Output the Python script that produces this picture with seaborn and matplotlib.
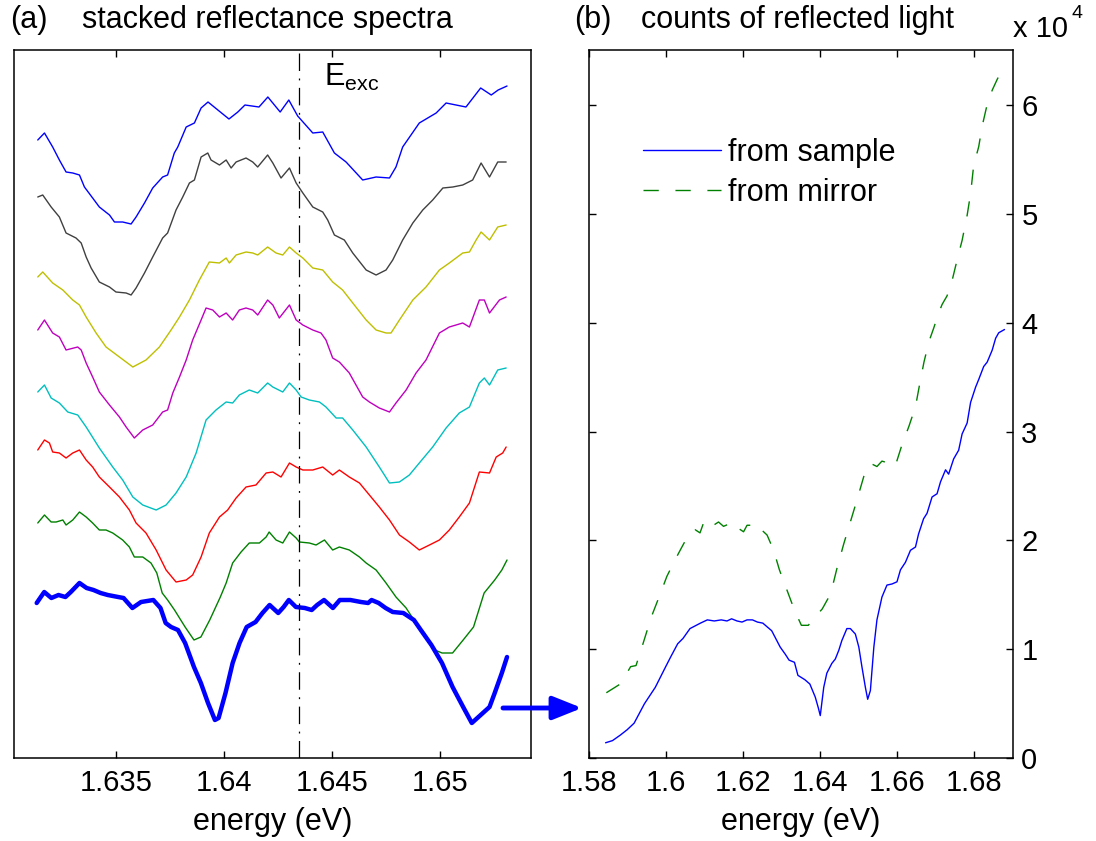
import matplotlib
matplotlib.use("Agg")
import matplotlib.pyplot as plt
import seaborn as sns
from matplotlib.patches import FancyArrowPatch

# ---------------- panel (a): stacked reflectance spectra (arb. units) ----------------
spec1_e = [1.63139, 1.63170, 1.63208, 1.63239, 1.63270, 1.63301, 1.63332, 1.63355, 1.63393, 1.63424, 1.63471, 1.63494, 1.63532, 1.63571, 1.63594, 1.63633, 1.63671, 1.63717, 1.63740, 1.63771, 1.63787, 1.63826, 1.63864, 1.63895, 1.63927, 1.63984, 1.64024, 1.64065, 1.64098, 1.64163, 1.64204, 1.64261, 1.64301, 1.64342, 1.64412, 1.64458, 1.64512, 1.64566, 1.64643, 1.64705, 1.64767, 1.64797, 1.64828, 1.64905, 1.64983, 1.65029, 1.65121, 1.65189, 1.65238, 1.65270, 1.65311]
spec1_r = [6.18, 6.25, 6.11, 5.98, 5.86, 5.85, 5.83, 5.71, 5.60, 5.51, 5.43, 5.36, 5.36, 5.34, 5.41, 5.55, 5.70, 5.81, 5.83, 6.05, 6.11, 6.31, 6.35, 6.50, 6.56, 6.46, 6.39, 6.46, 6.53, 6.51, 6.61, 6.46, 6.58, 6.42, 6.25, 6.26, 6.05, 5.96, 5.78, 5.81, 5.80, 5.91, 6.11, 6.35, 6.45, 6.55, 6.51, 6.70, 6.63, 6.68, 6.72]

spec2_e = [1.63139, 1.63162, 1.63201, 1.63239, 1.63270, 1.63316, 1.63340, 1.63363, 1.63386, 1.63424, 1.63471, 1.63501, 1.63548, 1.63571, 1.63594, 1.63633, 1.63671, 1.63717, 1.63740, 1.63779, 1.63810, 1.63841, 1.63864, 1.63895, 1.63926, 1.63941, 1.63980, 1.64011, 1.64034, 1.64057, 1.64103, 1.64134, 1.64157, 1.64203, 1.64227, 1.64265, 1.64304, 1.64335, 1.64366, 1.64412, 1.64458, 1.64481, 1.64512, 1.64558, 1.64597, 1.64659, 1.64705, 1.64751, 1.64782, 1.64828, 1.64875, 1.64921, 1.64967, 1.65014, 1.65060, 1.65106, 1.65152, 1.65191, 1.65230, 1.65268, 1.65307]
spec2_r = [5.61, 5.63, 5.51, 5.41, 5.25, 5.20, 5.15, 5.01, 4.90, 4.76, 4.71, 4.66, 4.65, 4.63, 4.70, 4.85, 5.01, 5.20, 5.25, 5.48, 5.61, 5.75, 5.78, 6.01, 6.05, 5.98, 5.93, 5.98, 5.90, 5.96, 6.00, 5.96, 5.91, 6.03, 5.95, 5.80, 5.90, 5.75, 5.65, 5.51, 5.46, 5.38, 5.23, 5.18, 5.05, 4.88, 4.83, 4.88, 4.98, 5.18, 5.35, 5.48, 5.58, 5.70, 5.71, 5.73, 5.78, 5.95, 5.81, 5.96, 5.96]

spec3_e = [1.63139, 1.63162, 1.63208, 1.63255, 1.63301, 1.63332, 1.63363, 1.63409, 1.63455, 1.63517, 1.63579, 1.63640, 1.63702, 1.63756, 1.63795, 1.63841, 1.63887, 1.63933, 1.63980, 1.64011, 1.64026, 1.64057, 1.64103, 1.64134, 1.64157, 1.64203, 1.64242, 1.64273, 1.64304, 1.64335, 1.64366, 1.64412, 1.64458, 1.64504, 1.64550, 1.64597, 1.64659, 1.64705, 1.64751, 1.64774, 1.64813, 1.64875, 1.64936, 1.64998, 1.65044, 1.65106, 1.65137, 1.65168, 1.65191, 1.65230, 1.65268, 1.65307]
spec3_r = [4.81, 4.86, 4.75, 4.68, 4.58, 4.53, 4.41, 4.25, 4.11, 4.01, 3.91, 3.98, 4.11, 4.28, 4.41, 4.58, 4.78, 4.96, 4.95, 5.00, 4.95, 5.03, 5.06, 5.05, 5.03, 5.11, 5.05, 5.03, 5.11, 5.05, 5.00, 4.90, 4.88, 4.76, 4.68, 4.55, 4.38, 4.28, 4.25, 4.25, 4.38, 4.58, 4.71, 4.88, 4.95, 5.05, 5.06, 5.18, 5.26, 5.18, 5.31, 5.33]

spec4_e = [1.63139, 1.63170, 1.63208, 1.63239, 1.63270, 1.63324, 1.63340, 1.63363, 1.63393, 1.63424, 1.63471, 1.63517, 1.63548, 1.63586, 1.63625, 1.63671, 1.63717, 1.63740, 1.63764, 1.63795, 1.63826, 1.63856, 1.63895, 1.63918, 1.63949, 1.63980, 1.64011, 1.64041, 1.64072, 1.64103, 1.64134, 1.64157, 1.64203, 1.64227, 1.64257, 1.64304, 1.64335, 1.64366, 1.64412, 1.64450, 1.64473, 1.64504, 1.64535, 1.64581, 1.64612, 1.64643, 1.64674, 1.64720, 1.64767, 1.64797, 1.64844, 1.64890, 1.64936, 1.64998, 1.65044, 1.65106, 1.65137, 1.65183, 1.65206, 1.65230, 1.65276, 1.65307]
spec4_r = [4.28, 4.38, 4.25, 4.21, 4.08, 4.11, 4.08, 3.95, 3.81, 3.66, 3.53, 3.41, 3.31, 3.20, 3.28, 3.33, 3.46, 3.48, 3.65, 3.81, 3.98, 4.18, 4.38, 4.50, 4.48, 4.41, 4.45, 4.38, 4.48, 4.50, 4.48, 4.43, 4.58, 4.53, 4.40, 4.53, 4.38, 4.33, 4.28, 4.25, 4.18, 4.00, 3.96, 3.85, 3.73, 3.61, 3.56, 3.50, 3.46, 3.55, 3.68, 3.85, 3.98, 4.25, 4.31, 4.35, 4.31, 4.58, 4.58, 4.45, 4.58, 4.61]

spec5_e = [1.63139, 1.63170, 1.63201, 1.63239, 1.63278, 1.63324, 1.63363, 1.63424, 1.63486, 1.63532, 1.63579, 1.63625, 1.63687, 1.63733, 1.63779, 1.63826, 1.63872, 1.63918, 1.63964, 1.64011, 1.64041, 1.64072, 1.64118, 1.64157, 1.64203, 1.64227, 1.64273, 1.64304, 1.64335, 1.64358, 1.64396, 1.64443, 1.64473, 1.64520, 1.64550, 1.64597, 1.64659, 1.64720, 1.64767, 1.64813, 1.64859, 1.64905, 1.64967, 1.65029, 1.65090, 1.65137, 1.65183, 1.65206, 1.65230, 1.65268, 1.65307]
spec5_r = [3.66, 3.73, 3.60, 3.55, 3.46, 3.43, 3.31, 3.10, 2.91, 2.78, 2.61, 2.53, 2.48, 2.53, 2.65, 2.81, 3.05, 3.38, 3.48, 3.56, 3.55, 3.63, 3.68, 3.65, 3.75, 3.71, 3.66, 3.75, 3.68, 3.61, 3.58, 3.56, 3.51, 3.40, 3.40, 3.28, 3.11, 2.91, 2.75, 2.76, 2.83, 2.95, 3.11, 3.30, 3.45, 3.51, 3.75, 3.80, 3.73, 3.88, 3.90]

spec6_e = [1.63139, 1.63170, 1.63193, 1.63208, 1.63239, 1.63270, 1.63301, 1.63332, 1.63363, 1.63393, 1.63424, 1.63471, 1.63517, 1.63563, 1.63594, 1.63640, 1.63687, 1.63733, 1.63779, 1.63826, 1.63856, 1.63895, 1.63933, 1.63980, 1.64018, 1.64057, 1.64103, 1.64149, 1.64196, 1.64227, 1.64265, 1.64304, 1.64335, 1.64366, 1.64412, 1.64458, 1.64504, 1.64535, 1.64581, 1.64628, 1.64674, 1.64720, 1.64767, 1.64813, 1.64859, 1.64905, 1.64952, 1.64998, 1.65044, 1.65090, 1.65137, 1.65183, 1.65230, 1.65261, 1.65291, 1.65307]
spec6_r = [3.08, 3.18, 3.15, 3.06, 3.05, 3.00, 3.05, 3.08, 2.98, 2.91, 2.81, 2.71, 2.61, 2.48, 2.35, 2.25, 2.08, 1.88, 1.76, 1.78, 1.83, 2.01, 2.25, 2.41, 2.48, 2.60, 2.71, 2.73, 2.85, 2.86, 2.81, 2.95, 2.91, 2.88, 2.88, 2.91, 2.83, 2.88, 2.81, 2.75, 2.63, 2.51, 2.38, 2.23, 2.16, 2.08, 2.13, 2.18, 2.28, 2.41, 2.55, 2.86, 2.85, 3.01, 3.05, 3.11]

spec7_e = [1.63139, 1.63170, 1.63201, 1.63224, 1.63255, 1.63270, 1.63301, 1.63332, 1.63363, 1.63393, 1.63424, 1.63455, 1.63486, 1.63532, 1.63563, 1.63586, 1.63625, 1.63663, 1.63690, 1.63715, 1.63740, 1.63772, 1.63821, 1.63862, 1.63894, 1.63935, 1.63984, 1.64011, 1.64041, 1.64080, 1.64118, 1.64165, 1.64196, 1.64210, 1.64242, 1.64273, 1.64304, 1.64335, 1.64350, 1.64396, 1.64427, 1.64466, 1.64504, 1.64535, 1.64581, 1.64628, 1.64659, 1.64705, 1.64751, 1.64797, 1.64844, 1.64880, 1.64928, 1.64977, 1.65010, 1.65059, 1.65108, 1.65156, 1.65205, 1.65254, 1.65287, 1.65311]
spec7_r = [2.35, 2.43, 2.36, 2.36, 2.38, 2.33, 2.38, 2.46, 2.41, 2.35, 2.28, 2.28, 2.25, 2.18, 2.11, 2.01, 2.01, 1.95, 1.85, 1.65, 1.58, 1.48, 1.31, 1.18, 1.21, 1.38, 1.61, 1.75, 1.95, 2.06, 2.15, 2.15, 2.21, 2.26, 2.18, 2.15, 2.26, 2.20, 2.16, 2.15, 2.13, 2.18, 2.08, 2.11, 2.08, 2.01, 1.95, 1.88, 1.75, 1.61, 1.50, 1.38, 1.25, 1.08, 1.05, 1.05, 1.18, 1.31, 1.65, 1.78, 1.88, 1.98]

spec8_e = [1.63134, 1.63153, 1.63169, 1.63202, 1.63235, 1.63267, 1.63292, 1.63332, 1.63365, 1.63397, 1.63430, 1.63463, 1.63511, 1.63536, 1.63577, 1.63617, 1.63674, 1.63707, 1.63731, 1.63756, 1.63788, 1.63821, 1.63862, 1.63894, 1.63927, 1.63959, 1.63976, 1.64008, 1.64041, 1.64073, 1.64106, 1.64147, 1.64179, 1.64212, 1.64252, 1.64277, 1.64301, 1.64334, 1.64375, 1.64407, 1.64432, 1.64464, 1.64505, 1.64537, 1.64586, 1.64635, 1.64668, 1.64684, 1.64717, 1.64749, 1.64782, 1.64831, 1.64880, 1.64912, 1.64961, 1.65010, 1.65059, 1.65108, 1.65148, 1.65189, 1.65230, 1.65254, 1.65287, 1.65311]
spec8_r = [1.55, 1.61, 1.66, 1.60, 1.63, 1.61, 1.66, 1.75, 1.70, 1.68, 1.65, 1.63, 1.61, 1.60, 1.50, 1.56, 1.58, 1.50, 1.35, 1.31, 1.28, 1.15, 0.91, 0.75, 0.55, 0.38, 0.40, 0.65, 0.95, 1.15, 1.31, 1.36, 1.45, 1.53, 1.45, 1.51, 1.58, 1.51, 1.50, 1.48, 1.53, 1.58, 1.50, 1.58, 1.58, 1.56, 1.55, 1.58, 1.55, 1.50, 1.46, 1.45, 1.38, 1.28, 1.13, 0.95, 0.71, 0.51, 0.35, 0.43, 0.51, 0.65, 0.85, 1.01]

spec_colors = ["#0000FF", "#404040", "#BFBF00", "#BF00BF", "#00BFBF", "#FF0000", "#008000", "#0000FF"]
E_exc = 1.64346
a_xticks = [1.635, 1.64, 1.645, 1.65]
a_xticklabels = ["1.635", "1.64", "1.645", "1.65"]

# ---------------- panel (b): counts (units of 10^4) ----------------
sample_e = [1.5843, 1.5861, 1.5881, 1.5899, 1.5917, 1.5944, 1.5972, 1.5999, 1.6012, 1.6030, 1.6044, 1.6062, 1.6089, 1.6107, 1.6125, 1.6143, 1.6158, 1.6170, 1.6184, 1.6197, 1.6210, 1.6224, 1.6237, 1.6251, 1.6274, 1.6296, 1.6310, 1.6319, 1.6333, 1.6342, 1.6360, 1.6373, 1.6387, 1.6395, 1.6400, 1.6409, 1.6417, 1.6430, 1.6439, 1.6448, 1.6456, 1.6469, 1.6478, 1.6491, 1.6500, 1.6508, 1.6517, 1.6523, 1.6530, 1.6539, 1.6547, 1.6560, 1.6573, 1.6586, 1.6599, 1.6608, 1.6621, 1.6634, 1.6647, 1.6655, 1.6668, 1.6677, 1.6690, 1.6703, 1.6712, 1.6725, 1.6733, 1.6746, 1.6759, 1.6768, 1.6781, 1.6790, 1.6803, 1.6811, 1.6824, 1.6833, 1.6846, 1.6855, 1.6863, 1.6878]
sample_c = [0.14, 0.16, 0.21, 0.26, 0.32, 0.50, 0.65, 0.84, 0.93, 1.05, 1.10, 1.19, 1.24, 1.27, 1.26, 1.27, 1.26, 1.28, 1.26, 1.25, 1.27, 1.27, 1.25, 1.24, 1.17, 1.02, 0.95, 0.90, 0.88, 0.76, 0.72, 0.68, 0.56, 0.46, 0.39, 0.65, 0.78, 0.87, 0.91, 0.99, 1.08, 1.19, 1.19, 1.14, 1.02, 0.84, 0.65, 0.54, 0.62, 1.02, 1.27, 1.48, 1.59, 1.60, 1.62, 1.73, 1.80, 1.91, 1.94, 2.06, 2.20, 2.25, 2.40, 2.43, 2.54, 2.65, 2.61, 2.75, 2.83, 2.98, 3.08, 3.27, 3.41, 3.48, 3.60, 3.64, 3.75, 3.86, 3.91, 3.94]

mirror_e = [1.5845, 1.5863, 1.5881, 1.5890, 1.5908, 1.5922, 1.5940, 1.5962, 1.5985, 1.6002, 1.6023, 1.6041, 1.6058, 1.6075, 1.6088, 1.6097, 1.6110, 1.6118, 1.6123, 1.6136, 1.6149, 1.6162, 1.6175, 1.6184, 1.6201, 1.6210, 1.6223, 1.6235, 1.6244, 1.6262, 1.6279, 1.6294, 1.6314, 1.6333, 1.6351, 1.6369, 1.6387, 1.6405, 1.6427, 1.6443, 1.6461, 1.6478, 1.6495, 1.6513, 1.6530, 1.6547, 1.6560, 1.6569, 1.6582, 1.6595, 1.6612, 1.6630, 1.6647, 1.6658, 1.6669, 1.6682, 1.6694, 1.6707, 1.6716, 1.6729, 1.6742, 1.6755, 1.6768, 1.6781, 1.6790, 1.6798, 1.6811, 1.6820, 1.6833, 1.6846, 1.6859, 1.6872]
mirror_c = [0.60, 0.64, 0.68, 0.73, 0.84, 0.85, 1.05, 1.30, 1.51, 1.67, 1.82, 1.94, 2.05, 2.10, 2.07, 2.16, 2.17, 2.12, 2.14, 2.17, 2.13, 2.15, 2.17, 2.12, 2.08, 2.14, 2.14, 2.09, 2.11, 2.05, 1.91, 1.73, 1.54, 1.36, 1.22, 1.22, 1.30, 1.37, 1.51, 1.74, 1.97, 2.17, 2.37, 2.59, 2.71, 2.68, 2.73, 2.72, 2.68, 2.69, 2.88, 3.05, 3.23, 3.44, 3.64, 3.83, 3.95, 4.09, 4.17, 4.25, 4.39, 4.58, 4.76, 4.99, 5.19, 5.45, 5.62, 5.81, 6.01, 6.14, 6.24, 6.33]

b_xticks = [1.58, 1.60, 1.62, 1.64, 1.66, 1.68]
b_xticklabels = ["1.58", "1.6", "1.62", "1.64", "1.66", "1.68"]
b_yticks = [0, 1, 2, 3, 4, 5, 6]
legend_labels = ["from sample", "from mirror"]

# ---------------- styling ----------------
sns.set_theme(style="white")
plt.rcParams["font.family"] = ["Liberation Sans", "DejaVu Sans"]
plt.rcParams["mathtext.fontset"] = "custom"
plt.rcParams["mathtext.rm"] = "Liberation Sans"
plt.rcParams["mathtext.it"] = "Liberation Sans:italic"
for key in ("text.color", "axes.labelcolor", "xtick.color", "ytick.color", "axes.edgecolor"):
    plt.rcParams[key] = "black"
FS = 22      # titles, labels, legend
TFS = 21     # tick labels

W, H = 1096, 841
fig = plt.figure(figsize=(W / 100, H / 100), dpi=100)
axL = fig.add_axes([14 / W, (H - 758) / H, (531 - 14) / W, 708 / H])
axR = fig.add_axes([589 / W, (H - 758) / H, (1013 - 589) / W, 708 / H])

spectra = [(spec1_e, spec1_r), (spec2_e, spec2_r), (spec3_e, spec3_r), (spec4_e, spec4_r),
           (spec5_e, spec5_r), (spec6_e, spec6_r), (spec7_e, spec7_r), (spec8_e, spec8_r)]
for i, ((e, r), c) in enumerate(zip(spectra, spec_colors)):
    n = min(len(e), len(r))
    lw = 3.2 if i == 7 else 1.0
    sns.lineplot(x=e[:n], y=r[:n], ax=axL, color=c, linewidth=lw, sort=False,
                 estimator=None, errorbar=None, legend=False)

axL.axvline(E_exc, color="black", linewidth=0.9, linestyle=(0, (14, 6, 1.5, 6)))
axL.text(1.64462, 6.72, r"$\mathrm{E_{exc}}$", fontsize=FS, va="baseline", ha="left")

axL.set_xlim(1.63029, 1.65422)
axL.set_ylim(0, 7.08)
axL.set_xticks(a_xticks)
axL.set_xticklabels(a_xticklabels)
axL.set_yticks([])
axL.set_xlabel("energy (eV)", fontsize=FS, labelpad=7)
axL.set_ylabel("")
axL.tick_params(axis="x", direction="in", length=5, width=1, top=True, bottom=True,
                labelsize=TFS, pad=8)

n = min(len(sample_e), len(sample_c))
sns.lineplot(x=sample_e[:n], y=sample_c[:n], ax=axR, color="#0000FF", linewidth=1.0,
             sort=False, estimator=None, errorbar=None, label=legend_labels[0], legend=False)
n = min(len(mirror_e), len(mirror_c))
sns.lineplot(x=mirror_e[:n], y=mirror_c[:n], ax=axR, color="#008000", linewidth=1.0,
             linestyle=(0, (11, 12)), sort=False, estimator=None, errorbar=None,
             label=legend_labels[1], legend=False)

axR.set_xlim(1.58, 1.69)
axR.set_ylim(0, 6.51)
axR.set_xticks(b_xticks)
axR.set_xticklabels(b_xticklabels)
axR.set_yticks(b_yticks)
axR.set_yticklabels([str(t) for t in b_yticks])
axR.set_xlabel("energy (eV)", fontsize=FS, labelpad=7)
axR.set_ylabel("")
axR.tick_params(axis="x", direction="in", length=5, width=1, top=True, bottom=True,
                labelsize=TFS, pad=8)
axR.tick_params(axis="y", direction="in", length=5, width=1, left=True, right=True,
                labelleft=False, labelright=True, labelsize=TFS, pad=6)

handles = axR.get_lines()[:2]
axR.legend(handles, legend_labels, loc="upper left", bbox_to_anchor=(0.127, 0.876),
           frameon=False, fontsize=FS, handlelength=2.55, handletextpad=0.23,
           borderpad=0, borderaxespad=0, labelspacing=0.33)

for ax in (axL, axR):
    for s in ax.spines.values():
        s.set_visible(True)
        s.set_color("black")
        s.set_linewidth(1.1)

# panel titles and exponent label
fig.text(10 / W, 1 - 28 / H, "(a)", fontsize=FS, va="baseline", ha="left")
fig.text(82 / W, 1 - 28 / H, "stacked reflectance spectra", fontsize=FS, va="baseline", ha="left")
fig.text(574 / W, 1 - 28 / H, "(b)", fontsize=FS, va="baseline", ha="left")
fig.text(641 / W, 1 - 28 / H, "counts of reflected light", fontsize=FS, va="baseline", ha="left")
fig.text(1013 / W, 1 - 37 / H, "x 10", fontsize=TFS, va="baseline", ha="left")
fig.text(1071 / W, 1 - 18.5 / H, "4", fontsize=14, va="baseline", ha="left")

# arrow linking the two panels
arrow = FancyArrowPatch((503 / W, 1 - 708 / H), (582 / W, 1 - 708 / H),
                        transform=fig.transFigure,
                        arrowstyle="-|>,head_length=0.4,head_width=0.16",
                        mutation_scale=44, linewidth=3.5, color="#0000FF",
                        shrinkA=0, shrinkB=0)
fig.add_artist(arrow)

fig.savefig("out.png", dpi=100)
